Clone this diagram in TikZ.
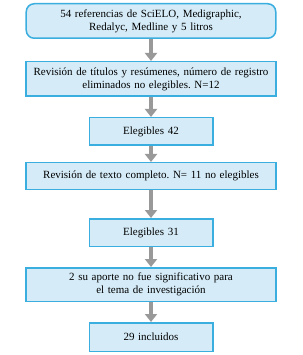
\documentclass[tikz,border=0pt]{standalone}
\usepackage{fontspec}
\setmainfont{Liberation Serif}
\usepackage{tikz}
\usetikzlibrary{arrows.meta, positioning}
\frenchspacing

\definecolor{boxfill}{HTML}{D5ECF8}
\definecolor{boxline}{HTML}{3AAEDF}
\definecolor{arrowgray}{HTML}{999999}

\tikzset{
    widebox/.style={draw=boxline, fill=boxfill, line width=1.5pt, rectangle, align=center,
        minimum width=249.5pt, text width=242pt, font=\fontsize{11}{13}\selectfont},
    narrowbox/.style={widebox, minimum width=123.5pt, text width=115pt},
    flowarrow/.style={-{Triangle[width=12pt, length=8pt]}, line width=4pt, draw=arrowgray, fill=arrowgray}
}

\begin{document}
\begin{tikzpicture}
    \useasboundingbox (-151pt,0pt) rectangle (151pt,-355pt);

    \node (refs) [widebox, rounded corners=8pt, minimum height=34.5pt] at (0,-21pt)
        {54 referencias de SciELO, Medigraphic,\\ Redalyc, Medline y 5 litros};
    \node (titulos) [widebox, below=22pt of refs, minimum height=34.5pt]
        {Revisión de títulos y resúmenes, número de registro\\ eliminados no elegibles. N=12};
    \node (eleg42) [narrowbox, below=20pt of titulos, minimum height=27.5pt] {Elegibles 42};
    \node (texto) [widebox, below=16pt of eleg42, minimum height=26.5pt]
        {Revisión de texto completo. N= 11 no elegibles};
    \node (eleg31) [narrowbox, below=28pt of texto, minimum height=27.5pt] {Elegibles 31};
    \node (aporte) [widebox, below=20pt of eleg31, minimum height=33.5pt]
        {2 su aporte no fue significativo para\\ el tema de investigación};
    \node (incluidos) [narrowbox, below=20pt of aporte, minimum height=28.5pt] {29 incluidos};

    \draw [flowarrow] (refs) -- (titulos);
    \draw [flowarrow] (titulos) -- (eleg42);
    \draw [flowarrow] (eleg42) -- (texto);
    \draw [flowarrow] (texto) -- (eleg31);
    \draw [flowarrow] (eleg31) -- (aporte);
    \draw [flowarrow] (aporte) -- (incluidos);
\end{tikzpicture}
\end{document}
